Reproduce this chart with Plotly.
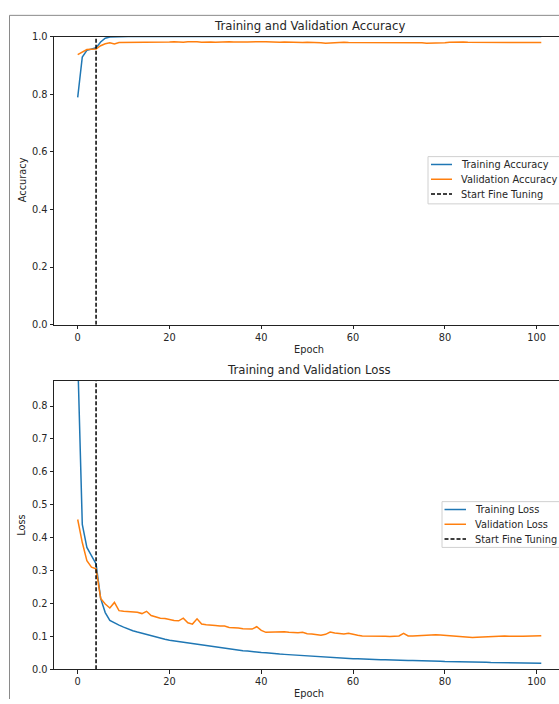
import plotly.graph_objects as go

# ---------------- data ----------------
epochs = list(range(102))
fine_tune_epoch = 4

train_acc = [
    0.789, 0.929, 0.952, 0.957, 0.961, 0.981, 0.994, 0.998, 0.999, 0.9994,
    0.9996, 0.9997, 0.9998, 0.9998, 0.9999, 0.9999, 0.9999, 1.0, 0.9999, 1.0,
    1.0, 1.0, 1.0, 0.9999, 1.0, 1.0, 1.0, 1.0, 1.0, 1.0,
    1.0, 1.0, 1.0, 1.0, 1.0, 0.9999, 1.0, 1.0, 1.0, 1.0,
    1.0, 1.0, 1.0, 1.0, 1.0, 1.0, 1.0, 1.0, 1.0, 1.0,
    1.0, 1.0, 1.0, 1.0, 1.0, 1.0, 1.0, 1.0, 1.0, 1.0,
    1.0, 1.0, 1.0, 1.0, 1.0, 1.0, 1.0, 1.0, 1.0, 1.0,
    1.0, 1.0, 1.0, 1.0, 1.0, 1.0, 1.0, 1.0, 1.0, 1.0,
    1.0, 1.0, 1.0, 1.0, 1.0, 1.0, 1.0, 1.0, 1.0, 1.0,
    1.0, 1.0, 1.0, 1.0, 1.0, 1.0, 1.0, 1.0, 1.0, 1.0,
    1.0, 1.0,
]

val_acc = [
    0.937, 0.946, 0.955, 0.956, 0.957, 0.968, 0.975, 0.978, 0.974, 0.979,
    0.979, 0.980, 0.979, 0.980, 0.981, 0.980, 0.979, 0.980, 0.980, 0.981,
    0.981, 0.982, 0.981, 0.980, 0.982, 0.983, 0.982, 0.980, 0.981, 0.981,
    0.980, 0.981, 0.981, 0.982, 0.981, 0.982, 0.981, 0.981, 0.982, 0.983,
    0.982, 0.982, 0.981, 0.981, 0.980, 0.981, 0.980, 0.979, 0.978, 0.979,
    0.980, 0.980, 0.979, 0.978, 0.977, 0.978, 0.979, 0.979, 0.980, 0.979,
    0.979, 0.979, 0.980, 0.979, 0.979, 0.980, 0.979, 0.978, 0.979, 0.979,
    0.980, 0.979, 0.979, 0.978, 0.979, 0.978, 0.977, 0.977, 0.976, 0.977,
    0.978, 0.980, 0.981, 0.982, 0.981, 0.980, 0.980, 0.979, 0.980, 0.979,
    0.979, 0.978, 0.979, 0.980, 0.979, 0.979, 0.978, 0.979, 0.979, 0.979,
    0.979, 0.979,
]

train_loss = [
    0.95, 0.44, 0.37, 0.345, 0.32, 0.215, 0.172, 0.148, 0.140, 0.134,
    0.128, 0.122, 0.117, 0.113, 0.109, 0.105, 0.101, 0.098, 0.094, 0.091,
    0.088, 0.086, 0.084, 0.081, 0.079, 0.077, 0.075, 0.072, 0.070, 0.068,
    0.066, 0.064, 0.063, 0.061, 0.059, 0.058, 0.056, 0.055, 0.053, 0.052,
    0.051, 0.050, 0.048, 0.047, 0.046, 0.045, 0.044, 0.043, 0.042, 0.041,
    0.040, 0.039, 0.038, 0.037, 0.037, 0.036, 0.035, 0.034, 0.034, 0.033,
    0.032, 0.032, 0.031, 0.031, 0.030, 0.030, 0.029, 0.029, 0.028, 0.028,
    0.027, 0.027, 0.026, 0.026, 0.026, 0.025, 0.025, 0.024, 0.024, 0.024,
    0.023, 0.023, 0.023, 0.022, 0.022, 0.022, 0.021, 0.021, 0.021, 0.021,
    0.020, 0.020, 0.020, 0.020, 0.019, 0.019, 0.019, 0.019, 0.018, 0.018,
    0.018, 0.018,
]

val_loss = [
    0.455, 0.385, 0.33, 0.31, 0.305, 0.215, 0.198, 0.186, 0.203, 0.178,
    0.176, 0.175, 0.176, 0.173, 0.169, 0.176, 0.163, 0.158, 0.155, 0.154,
    0.150, 0.148, 0.147, 0.155, 0.141, 0.137, 0.153, 0.137, 0.135, 0.135,
    0.133, 0.131, 0.131, 0.127, 0.127, 0.125, 0.123, 0.122, 0.122, 0.129,
    0.118, 0.112, 0.113, 0.113, 0.113, 0.114, 0.112, 0.111, 0.111, 0.112,
    0.108, 0.107, 0.106, 0.103, 0.106, 0.113, 0.110, 0.108, 0.107, 0.109,
    0.105, 0.103, 0.101, 0.101, 0.102, 0.100, 0.101, 0.100, 0.099, 0.100,
    0.101, 0.109, 0.101, 0.101, 0.102, 0.103, 0.104, 0.106, 0.105, 0.104,
    0.103, 0.102, 0.101, 0.099, 0.098, 0.096, 0.096, 0.097, 0.098, 0.099,
    0.099, 0.100, 0.100, 0.101, 0.100, 0.101, 0.100, 0.100, 0.101, 0.100,
    0.101, 0.102,
]

acc_ylim = [0.0, 1.0]
loss_ylim = [0.0, 0.876]
x_ticks = [0, 20, 40, 60, 80, 100]
acc_ticks = [0.0, 0.2, 0.4, 0.6, 0.8, 1.0]
loss_ticks = [0.0, 0.1, 0.2, 0.3, 0.4, 0.5, 0.6, 0.7, 0.8]

# ---------------- styling ----------------
W, H = 559, 704
BLUE = "#1f77b4"
ORANGE = "#ff7f0e"
FONT = "DejaVu Sans"
TXT = "#262626"


def px(x):
    return x / W


def py(y):
    return 1 - y / H


fig = go.Figure()

# accuracy panel
fig.add_trace(go.Scatter(x=epochs, y=train_acc, mode="lines", name="Training Accuracy",
                         line=dict(color=BLUE, width=1.5), xaxis="x", yaxis="y", showlegend=False))
fig.add_trace(go.Scatter(x=epochs, y=val_acc, mode="lines", name="Validation Accuracy",
                         line=dict(color=ORANGE, width=1.5), xaxis="x", yaxis="y", showlegend=False))
fig.add_trace(go.Scatter(x=[fine_tune_epoch, fine_tune_epoch], y=acc_ylim, mode="lines",
                         name="Start Fine Tuning", line=dict(color="black", width=1.5, dash="4px,2px"),
                         xaxis="x", yaxis="y", showlegend=False))

# loss panel
fig.add_trace(go.Scatter(x=epochs, y=train_loss, mode="lines", name="Training Loss",
                         line=dict(color=BLUE, width=1.5), xaxis="x2", yaxis="y2", showlegend=False))
fig.add_trace(go.Scatter(x=epochs, y=val_loss, mode="lines", name="Validation Loss",
                         line=dict(color=ORANGE, width=1.5), xaxis="x2", yaxis="y2", showlegend=False))
fig.add_trace(go.Scatter(x=[fine_tune_epoch, fine_tune_epoch], y=loss_ylim, mode="lines",
                         name="Start Fine Tuning", line=dict(color="black", width=1.5, dash="4px,2px"),
                         xaxis="x2", yaxis="y2", showlegend=False))

x_left, x_right = 54, 559
xr = [(x_left - 77.7) / 4.59, (x_right - 77.7) / 4.59]

axis_common = dict(showgrid=False, zeroline=False, showline=True, linecolor="#222", linewidth=1,
                   ticks="outside", ticklen=3.5, tickwidth=1, tickcolor="#222",
                   tickfont=dict(family=FONT, size=9.8, color=TXT))

fig.update_layout(
    width=W, height=H,
    margin=dict(l=0, r=0, t=0, b=0),
    paper_bgcolor="white", plot_bgcolor="white",
    font=dict(family=FONT, size=9.8, color=TXT),
    xaxis=dict(domain=[px(x_left), 1], range=xr, tickvals=x_ticks, anchor="y", mirror=True, **axis_common),
    yaxis=dict(domain=[py(323.7), py(31)], range=acc_ylim, tickvals=acc_ticks, tickformat=".1f",
               anchor="x", **axis_common),
    xaxis2=dict(domain=[px(x_left), 1], range=xr, tickvals=x_ticks, anchor="y2", mirror=True, **axis_common),
    yaxis2=dict(domain=[py(673.7), py(381)], range=loss_ylim, tickvals=loss_ticks, tickformat=".1f",
                anchor="x2", **axis_common),
)

ann = []
shapes = []

# titles and axis labels
ann.append(dict(text="Training and Validation Accuracy", x=px(309), y=py(20.5), xref="paper", yref="paper",
                showarrow=False, xanchor="center", yanchor="middle", font=dict(family=FONT, size=11.7, color=TXT)))
ann.append(dict(text="Training and Validation Loss", x=px(309), y=py(370), xref="paper", yref="paper",
                showarrow=False, xanchor="center", yanchor="middle", font=dict(family=FONT, size=11.7, color=TXT)))
for yy in (349, 698):
    ann.append(dict(text="Epoch", x=px(309), y=py(yy), xref="paper", yref="paper", showarrow=False,
                    xanchor="center", yanchor="middle", font=dict(family=FONT, size=9.8, color=TXT)))
ann.append(dict(text="Accuracy", x=px(22), y=py(177), xref="paper", yref="paper", showarrow=False, textangle=-90,
                xanchor="center", yanchor="middle", font=dict(family=FONT, size=9.8, color=TXT)))
ann.append(dict(text="Loss", x=px(22), y=py(527), xref="paper", yref="paper", showarrow=False, textangle=-90,
                xanchor="center", yanchor="middle", font=dict(family=FONT, size=9.8, color=TXT)))


def legend(box_x, box_top, box_bottom, line_x0, line_x1, text_x, rows):
    shapes.append(dict(type="rect", xref="paper", yref="paper", x0=px(box_x), x1=px(W + 10),
                       y0=py(box_bottom), y1=py(box_top), line=dict(color="#d0d0d0", width=1),
                       fillcolor="rgba(255,255,255,0.85)", layer="above"))
    for yy, label, color, dash in rows:
        shapes.append(dict(type="line", xref="paper", yref="paper", x0=px(line_x0), x1=px(line_x1),
                           y0=py(yy), y1=py(yy), line=dict(color=color, width=1.5, dash=dash), layer="above"))
        ann.append(dict(text=label, x=px(text_x), y=py(yy), xref="paper", yref="paper", showarrow=False,
                        xanchor="left", yanchor="middle", font=dict(family=FONT, size=9.8, color=TXT)))


legend(428, 153, 201, 431, 452, 459, [
    (161, "Training Accuracy", BLUE, "solid"),
    (176, "Validation Accuracy", ORANGE, "solid"),
    (191, "Start Fine Tuning", "black", "4px,2px"),
])
legend(442, 503.5, 550, 444.5, 466, 473, [
    (511.5, "Training Loss", BLUE, "solid"),
    (526.5, "Validation Loss", ORANGE, "solid"),
    (541.5, "Start Fine Tuning", "black", "4px,2px"),
])

# figure frame (left and top edges visible in the reference)
shapes.append(dict(type="line", xref="paper", yref="paper", x0=px(9.5), x1=px(9.5), y0=0, y1=py(9.5),
                   line=dict(color="#8a8a8a", width=1)))
shapes.append(dict(type="line", xref="paper", yref="paper", x0=px(9.5), x1=1, y0=py(9.5), y1=py(9.5),
                   line=dict(color="#8a8a8a", width=1)))

fig.update_layout(annotations=ann, shapes=shapes)

# remove the page's default body margin so the 559x704 figure fills the window exactly
page_css = ("document.body.style.margin='0';document.body.style.padding='0';"
            "document.body.style.overflow='hidden';"
            "document.documentElement.style.overflow='hidden';")

fig.write_html("out.html", post_script=page_css, config={"displayModeBar": False})
